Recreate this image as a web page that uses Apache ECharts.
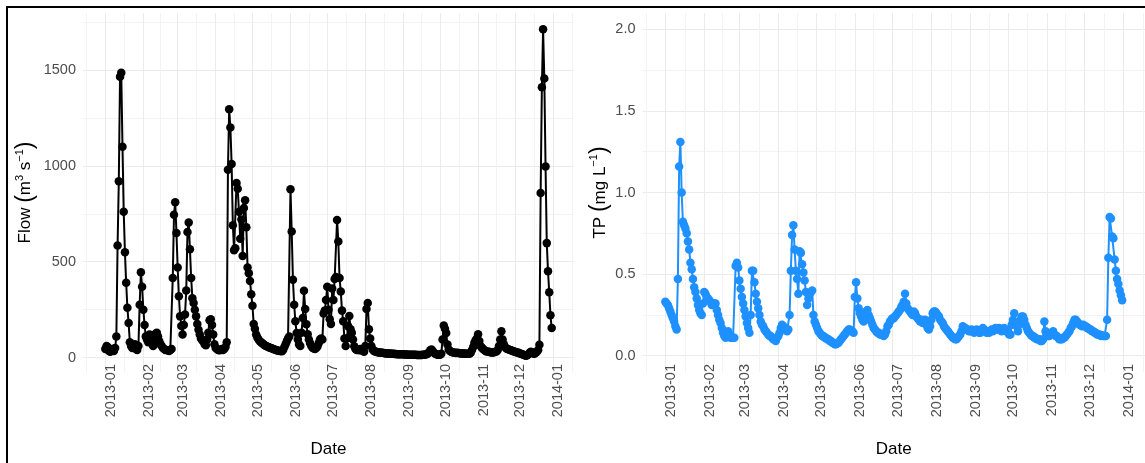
<!DOCTYPE html>
<html>
<head>
<meta charset="utf-8">
<script src="https://cdn.jsdelivr.net/npm/echarts@6/dist/echarts.min.js"></script>
<style>
  html, body { margin: 0; padding: 0; background: #fff; overflow: hidden; }
  #chart { position: absolute; left: 0; top: 0; width: 1145px; height: 463px; }
  #frame { position: absolute; left: 6px; top: 6px; width: 1138px; height: 463px; border-top: 2px solid #000; border-left: 2px solid #000; pointer-events: none; }
</style>
</head>
<body>
<div id="chart"></div>
<div id="frame"></div>
<script>
// daily values, 2013-01-01 .. 2013-12-31, one line per month
const flow = [
  45, 60, 55, 35, 30, 40, 45, 35, 50, 110, 585, 920, 1465, 1485, 1100, 760, 550, 390, 260, 180, 80, 60, 50, 55, 70, 45, 40, 60, 275, 445, 370,
  250, 170, 110, 95, 80, 120, 100, 75, 60, 90, 125, 130, 110, 85, 70, 60, 50, 45, 40, 40, 38, 35, 40, 45, 415, 745, 810, 650,
  470, 320, 215, 165, 120, 170, 225, 350, 655, 705, 565, 415, 310, 285, 250, 215, 175, 145, 120, 100, 90, 85, 70, 65, 95, 130, 195, 200, 170, 120, 70,
  50, 45, 40, 38, 40, 45, 40, 45, 55, 80, 980, 1295, 1200, 1010, 690, 560, 570, 910, 880, 760, 620, 720, 530, 780, 820, 680, 470, 440, 400, 330,
  270, 175, 150, 120, 105, 95, 85, 80, 75, 70, 65, 60, 58, 55, 52, 50, 48, 45, 42, 40, 38, 36, 35, 34, 33, 40, 55, 70, 85, 100, 110,
  878, 658, 406, 276, 189, 128, 94, 68, 60, 130, 207, 349, 253, 174, 122, 94, 75, 60, 52, 48, 45, 50, 58, 75, 94, 100, 94, 230, 245, 300,
  370, 250, 200, 175, 360, 300, 410, 420, 718, 605, 415, 345, 245, 189, 100, 60, 100, 163, 217, 148, 130, 94, 59, 45, 40, 42, 38, 45, 40, 35, 30,
  60, 253, 285, 148, 100, 60, 42, 35, 32, 30, 28, 27, 26, 25, 25, 24, 23, 22, 22, 22, 21, 20, 20, 20, 19, 19, 18, 18, 18, 17, 17,
  17, 16, 16, 16, 15, 15, 15, 15, 15, 15, 15, 14, 14, 14, 14, 14, 15, 15, 16, 18, 22, 28, 38, 42, 35, 25, 20, 17, 15, 15,
  15, 20, 94, 167, 150, 128, 68, 42, 35, 30, 28, 26, 25, 24, 25, 24, 23, 22, 22, 22, 21, 20, 20, 20, 20, 25, 40, 55, 77, 90, 100,
  122, 87, 60, 52, 45, 40, 35, 32, 30, 30, 28, 27, 27, 28, 30, 32, 40, 60, 94, 137, 94, 70, 55, 48, 45, 42, 40, 38, 35, 33,
  30, 28, 26, 25, 22, 20, 18, 15, 12, 10, 12, 18, 25, 30, 28, 22, 20, 25, 30, 40, 67, 858, 1410, 1712, 1456, 997, 597, 450, 341, 221, 154,
];

const tp = [
  0.33, 0.32, 0.31, 0.29, 0.27, 0.25, 0.23, 0.21, 0.18, 0.16, 0.47, 1.16, 1.31, 1.00, 0.82, 0.80, 0.78, 0.75, 0.70, 0.65, 0.57, 0.53, 0.47, 0.42, 0.39, 0.35, 0.31, 0.28, 0.26, 0.25, 0.32,
  0.39, 0.38, 0.36, 0.35, 0.34, 0.33, 0.31, 0.32, 0.32, 0.32, 0.28, 0.25, 0.22, 0.20, 0.17, 0.14, 0.12, 0.11, 0.12, 0.15, 0.13, 0.11, 0.11, 0.11, 0.11, 0.55, 0.57, 0.54,
  0.46, 0.41, 0.36, 0.32, 0.28, 0.24, 0.20, 0.17, 0.14, 0.25, 0.52, 0.52, 0.45, 0.38, 0.33, 0.29, 0.25, 0.21, 0.19, 0.18, 0.16, 0.15, 0.14, 0.13, 0.12, 0.12, 0.11, 0.10, 0.10, 0.09, 0.11,
  0.12, 0.14, 0.17, 0.19, 0.18, 0.17, 0.16, 0.15, 0.16, 0.25, 0.52, 0.74, 0.80, 0.65, 0.52, 0.47, 0.38, 0.64, 0.63, 0.56, 0.51, 0.46, 0.39, 0.31, 0.35, 0.38, 0.39, 0.40, 0.25, 0.21,
  0.19, 0.17, 0.15, 0.14, 0.13, 0.12, 0.12, 0.11, 0.11, 0.10, 0.10, 0.09, 0.09, 0.08, 0.08, 0.07, 0.07, 0.075, 0.08, 0.09, 0.10, 0.11, 0.12, 0.13, 0.14, 0.15, 0.16, 0.16, 0.15, 0.15, 0.14,
  0.36, 0.45, 0.35, 0.29, 0.26, 0.24, 0.22, 0.21, 0.23, 0.27, 0.28, 0.25, 0.23, 0.21, 0.19, 0.17, 0.16, 0.15, 0.14, 0.14, 0.13, 0.13, 0.13, 0.12, 0.13, 0.15, 0.18, 0.19, 0.21, 0.22,
  0.23, 0.23, 0.24, 0.25, 0.26, 0.27, 0.28, 0.30, 0.31, 0.33, 0.38, 0.32, 0.29, 0.28, 0.27, 0.26, 0.25, 0.27, 0.26, 0.24, 0.23, 0.22, 0.21, 0.22, 0.20, 0.21, 0.22, 0.19, 0.17, 0.16, 0.18,
  0.22, 0.26, 0.27, 0.27, 0.26, 0.25, 0.24, 0.22, 0.21, 0.20, 0.18, 0.17, 0.16, 0.15, 0.14, 0.13, 0.12, 0.11, 0.11, 0.10, 0.10, 0.11, 0.12, 0.13, 0.15, 0.18, 0.17, 0.17, 0.16, 0.16, 0.15,
  0.15, 0.16, 0.15, 0.14, 0.15, 0.16, 0.15, 0.14, 0.14, 0.15, 0.17, 0.16, 0.15, 0.14, 0.15, 0.14, 0.15, 0.16, 0.15, 0.16, 0.17, 0.16, 0.16, 0.17, 0.16, 0.15, 0.16, 0.17, 0.16, 0.15,
  0.14, 0.13, 0.13, 0.19, 0.22, 0.26, 0.20, 0.18, 0.15, 0.19, 0.22, 0.24, 0.24, 0.22, 0.19, 0.17, 0.15, 0.14, 0.13, 0.12, 0.12, 0.11, 0.11, 0.10, 0.10, 0.10, 0.09, 0.09, 0.10, 0.21, 0.15,
  0.13, 0.12, 0.12, 0.13, 0.14, 0.15, 0.13, 0.12, 0.12, 0.11, 0.10, 0.10, 0.10, 0.11, 0.11, 0.12, 0.13, 0.14, 0.15, 0.17, 0.18, 0.20, 0.22, 0.22, 0.21, 0.20, 0.19, 0.19, 0.18, 0.19,
  0.18, 0.18, 0.17, 0.17, 0.16, 0.16, 0.15, 0.15, 0.14, 0.14, 0.13, 0.13, 0.13, 0.12, 0.125, 0.12, 0.12, 0.12, 0.22, 0.60, 0.85, 0.84, 0.73, 0.72, 0.59, 0.52, 0.47, 0.44, 0.40, 0.37, 0.34,
];

const monthLabels = ['2013-01', '2013-02', '2013-03', '2013-04', '2013-05', '2013-06', '2013-07',
  '2013-08', '2013-09', '2013-10', '2013-11', '2013-12', '2014-01'];
const flowTicks = [0, 500, 1000, 1500];
const flowMinorTicks = [250, 750, 1250, 1750];
const tpTicks = [0, 0.5, 1, 1.5, 2];
const tpMinorTicks = [0.25, 0.75, 1.25, 1.75];
const tpLimits = [0, 2];

const FONT = '"Liberation Sans", Arial, sans-serif';
const LABEL_COLOR = '#4D4D4D';
const GRID_COLOR = '#EBEBEB';
const MINOR_COLOR = '#F3F3F3';

const dayTime = (i) => new Date(2013, 0, 1 + i).getTime();
const monthTime = (label, shift = 0) => {
  const [y, m] = label.split('-').map(Number);
  return new Date(y, m - 1 + shift, 1).getTime();
};

const majorTimes = monthLabels.map((l) => monthTime(l));
// ggplot minor breaks sit halfway between majors, also just outside the first/last one
const extTimes = [monthTime(monthLabels[0], -1), ...majorTimes, monthTime(monthLabels[monthLabels.length - 1], 1)];
const minorTimes = extTimes.slice(1).map((t, i) => (t + extTimes[i]) / 2);
const labelByTime = new Map(majorTimes.map((t, i) => [t, monthLabels[i]]));

// default ggplot expansion: 5% on each side
const expand = (lo, hi) => {
  const pad = (hi - lo) * 0.05;
  return [lo - pad, hi + pad];
};
const [xMin, xMax] = expand(dayTime(0), dayTime(flow.length - 1));
const [flowMin, flowMax] = expand(Math.min(...flow), Math.max(...flow));
const [tpMin, tpMax] = expand(tpLimits[0], tpLimits[1]);

// x is a plain value axis holding timestamps, so custom month breaks can be used
const makeXAxes = (gridIndex) => [
  {
    type: 'value',
    gridIndex,
    min: xMin,
    max: xMax,
    axisLine: { show: false },
    axisTick: { show: false, customValues: majorTimes },
    splitLine: { show: true, lineStyle: { color: GRID_COLOR, width: 1 } },
    axisLabel: {
      customValues: majorTimes,
      rotate: 90,
      margin: -8,
      verticalAlign: 'top',
      lineHeight: 11,
      color: LABEL_COLOR,
      fontSize: 14.5,
      fontFamily: FONT,
      formatter: (v) => labelByTime.get(v) || '',
    },
    name: 'Date',
    nameLocation: 'middle',
    nameGap: 69,
    nameTextStyle: { color: '#000', fontSize: 17, fontFamily: FONT },
  },
  {
    type: 'value',
    gridIndex,
    min: xMin,
    max: xMax,
    position: 'bottom',
    axisLine: { show: false },
    axisTick: { show: false, customValues: minorTimes },
    axisLabel: { show: false },
    splitLine: { show: true, lineStyle: { color: MINOR_COLOR, width: 1 } },
  },
];

const makeYAxes = (gridIndex, min, max, ticks, minorTicks, formatter, name, nameGap) => [
  {
    type: 'value',
    gridIndex,
    min,
    max,
    axisLine: { show: false },
    axisTick: { show: false, customValues: ticks },
    splitLine: { show: true, lineStyle: { color: GRID_COLOR, width: 1 } },
    axisLabel: {
      customValues: ticks,
      margin: 7,
      color: LABEL_COLOR,
      fontSize: 14.5,
      fontFamily: FONT,
      formatter,
    },
    name,
    nameLocation: 'middle',
    nameGap,
    nameTextStyle: {
      color: '#000',
      fontSize: 17,
      fontFamily: FONT,
      rich: {
        t: { color: '#000', fontSize: 17, fontFamily: FONT },
        p: { color: '#000', fontSize: 23, fontFamily: FONT },
        s: { color: '#000', fontSize: 11, fontFamily: FONT, verticalAlign: 'top' },
      },
    },
  },
  {
    type: 'value',
    gridIndex,
    min,
    max,
    position: 'left',
    axisLine: { show: false },
    axisTick: { show: false, customValues: minorTicks },
    axisLabel: { show: false },
    splitLine: { show: true, lineStyle: { color: MINOR_COLOR, width: 1 } },
  },
];

const chart = echarts.init(document.getElementById('chart'));

chart.setOption({
  animation: false,
  backgroundColor: '#fff',
  grid: [
    { left: 83, top: 13, width: 491, height: 360.5 },
    { left: 642.5, top: 13, width: 504.5, height: 360.5 },
  ],
  xAxis: [...makeXAxes(0), ...makeXAxes(1)],
  yAxis: [
    ...makeYAxes(0, flowMin, flowMax, flowTicks, flowMinorTicks, (v) => String(v),
      '{t|Flow }{p|(}{t|m}{s|3}{t| s}{s|\u22121}{p|)}', 46),
    ...makeYAxes(1, tpMin, tpMax, tpTicks, tpMinorTicks, (v) => v.toFixed(1),
      '{t|TP }{p|(}{t|mg L}{s|\u22121}{p|)}', 30),
  ],
  series: [
    {
      name: 'Flow',
      type: 'line',
      xAxisIndex: 0,
      yAxisIndex: 0,
      data: flow.map((v, i) => [dayTime(i), v]),
      symbol: 'circle',
      symbolSize: 8.5,
      showAllSymbol: true,
      lineStyle: { color: '#000', width: 2 },
      itemStyle: { color: '#000' },
      silent: true,
    },
    {
      name: 'TP',
      type: 'line',
      xAxisIndex: 2,
      yAxisIndex: 2,
      data: tp.map((v, i) => [dayTime(i), v]),
      symbol: 'circle',
      symbolSize: 8.5,
      showAllSymbol: true,
      lineStyle: { color: '#1E90FF', width: 2 },
      itemStyle: { color: '#1E90FF' },
      silent: true,
    },
  ],
});
</script>
</body>
</html>
